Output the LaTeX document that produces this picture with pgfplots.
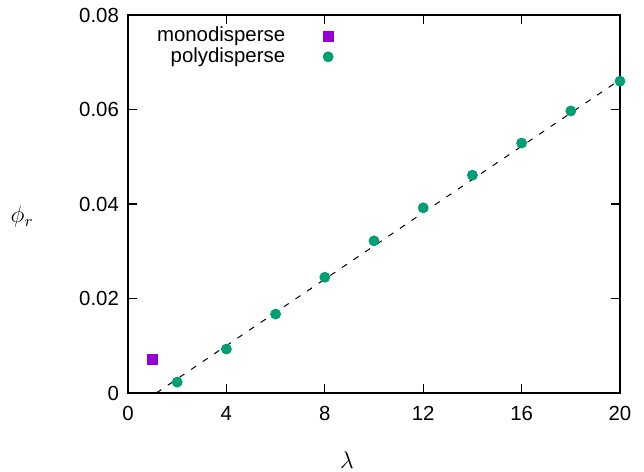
\documentclass[border=0pt]{standalone}
\usepackage{fontspec}
\setmainfont{Liberation Sans}
\usepackage{pgfplots}
\pgfplotsset{compat=1.18}
\definecolor{mono}{HTML}{9400D3}
\definecolor{poly}{HTML}{009E73}

\begin{document}
\fontsize{10bp}{12bp}\selectfont
\begin{tikzpicture}
\begin{axis}[scale only axis,width=246bp,height=189bp,at={(0,0)},anchor=origin,
  xmin=0,xmax=20,ymin=0,ymax=0.08,
  xtick={0,4,...,20},ytick={0,0.02,0.04,0.06,0.08},
  yticklabels={0,0.02,0.04,0.06,0.08},
  /pgf/number format/assume math mode=true,
  tick align=inside,major tick length=4.5bp,minor tick num=0,
  axis line style={line width=0.6bp},tick style={line width=0.6bp,black},
  every tick label/.style={font=\fontsize{10.2bp}{12bp}\selectfont},
  xticklabel style={yshift=-3bp},
  yticklabel style={xshift=-1bp},
  scaled y ticks=false,
  xlabel={$\lambda$},ylabel={$\phi_r$},
  xlabel style={at={(axis description cs:0.445,-0.177)},anchor=center,font=\fontsize{12bp}{14bp}\selectfont},
  ylabel style={at={(axis description cs:-0.215,0.466)},anchor=center,rotate=-90,font=\fontsize{12bp}{14bp}\selectfont},
  legend plot pos=right,legend cell align=right,
  legend style={draw=none,fill=none,at={(axis description cs:0.43,0.99)},anchor=north east,
    font=\fontsize{10.2bp}{11bp}\selectfont,row sep=-2.5bp,
    /tikz/every odd column/.append style={column sep=17bp}},
]
\addplot[only marks,mark=square*,mark size=2.5bp,color=mono] coordinates {(1,0.0072)};
\addlegendentry{monodisperse}
\addplot[only marks,mark=*,mark size=2.5bp,color=poly] coordinates {
(2,0.0023) (4,0.0093) (6,0.0167) (8,0.0245) (10,0.0322) (12,0.0392)
(14,0.0461) (16,0.0529) (18,0.0597) (20,0.0660)};
\addlegendentry{polydisperse}
\addplot[black,line width=0.5bp,dash pattern=on 3bp off 4bp,forget plot] coordinates {(1.15,0) (20,0.0663)};
\end{axis}
\pgfresetboundingbox
\useasboundingbox (-64bp,-39.5bp) rectangle (258bp,196.5bp);
\end{tikzpicture}
\end{document}
